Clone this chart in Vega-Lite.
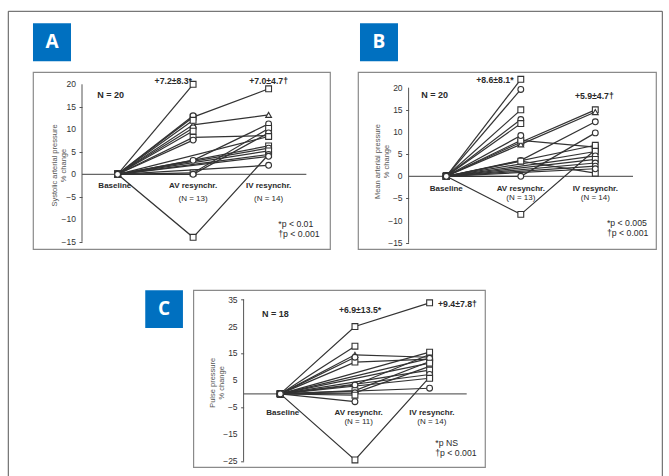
{
"$schema": "https://vega.github.io/schema/vega-lite/v6.json",
"background": "white",
"padding": {"left": 7, "top": 10, "right": 0, "bottom": 0},
"columns": 2,
"bounds": "flush",
"spacing": {"row": 41.3, "column": 28},
"datasets": {
"A": [
{"id":1,"c":0,"v":0},{"id":1,"c":1,"v":12.7},{"id":1,"c":2,"v":19},
{"id":2,"c":0,"v":0},{"id":2,"c":1,"v":11},{"id":2,"c":2,"v":13.2},
{"id":3,"c":0,"v":0},{"id":3,"c":1,"v":8.2},{"id":3,"c":2,"v":8.6},
{"id":4,"c":0,"v":0},{"id":4,"c":1,"v":3.1},{"id":4,"c":2,"v":11.2},
{"id":5,"c":0,"v":0},{"id":5,"c":1,"v":0.3},{"id":5,"c":2,"v":10.2},
{"id":6,"c":0,"v":0},{"id":6,"c":1,"v":0},{"id":6,"c":2,"v":9.2},
{"id":7,"c":0,"v":0},{"id":7,"c":1,"v":-14},{"id":7,"c":2,"v":4.4},
{"id":8,"c":0,"v":0},{"id":8,"c":1,"v":20},
{"id":9,"c":0,"v":0},{"id":9,"c":1,"v":13},
{"id":10,"c":0,"v":0},{"id":10,"c":1,"v":12},
{"id":11,"c":0,"v":0},{"id":11,"c":1,"v":10.3},
{"id":12,"c":0,"v":0},{"id":12,"c":1,"v":9.6},
{"id":13,"c":0,"v":0},{"id":13,"c":1,"v":7.6},
{"id":14,"c":0,"v":0},{"id":14,"c":2,"v":8.4},
{"id":15,"c":0,"v":0},{"id":15,"c":2,"v":6.3},
{"id":16,"c":0,"v":0},{"id":16,"c":2,"v":5.8},
{"id":17,"c":0,"v":0},{"id":17,"c":2,"v":5.2},
{"id":18,"c":0,"v":0},{"id":18,"c":2,"v":4.4},
{"id":19,"c":0,"v":0},{"id":19,"c":2,"v":4.0},
{"id":20,"c":0,"v":0},{"id":20,"c":2,"v":2.0}
],
"B": [
{"id":1,"c":0,"v":0},{"id":1,"c":1,"v":7.7},{"id":1,"c":2,"v":15.0},
{"id":2,"c":0,"v":0},{"id":2,"c":1,"v":7.2},{"id":2,"c":2,"v":14.5},
{"id":3,"c":0,"v":0},{"id":3,"c":1,"v":8.1},{"id":3,"c":2,"v":6.6},
{"id":4,"c":0,"v":0},{"id":4,"c":1,"v":3.6},{"id":4,"c":2,"v":12.3},
{"id":5,"c":0,"v":0},{"id":5,"c":1,"v":3.4},{"id":5,"c":2,"v":0.7},
{"id":6,"c":0,"v":0},{"id":6,"c":1,"v":0},{"id":6,"c":2,"v":9.8},
{"id":7,"c":0,"v":0},{"id":7,"c":1,"v":-8.6},{"id":7,"c":2,"v":6.0},
{"id":8,"c":0,"v":0},{"id":8,"c":1,"v":21.9},
{"id":9,"c":0,"v":0},{"id":9,"c":1,"v":19.6},
{"id":10,"c":0,"v":0},{"id":10,"c":1,"v":15.0},
{"id":11,"c":0,"v":0},{"id":11,"c":1,"v":12.8},
{"id":12,"c":0,"v":0},{"id":12,"c":1,"v":11.9},
{"id":13,"c":0,"v":0},{"id":13,"c":1,"v":9.2},
{"id":14,"c":0,"v":0},{"id":14,"c":2,"v":7.0},
{"id":15,"c":0,"v":0},{"id":15,"c":2,"v":5.6},
{"id":16,"c":0,"v":0},{"id":16,"c":2,"v":4.6},
{"id":17,"c":0,"v":0},{"id":17,"c":2,"v":3.8},
{"id":18,"c":0,"v":0},{"id":18,"c":2,"v":3.0},
{"id":19,"c":0,"v":0},{"id":19,"c":2,"v":2.3},
{"id":20,"c":0,"v":0},{"id":20,"c":2,"v":1.7}
],
"C": [
{"id":1,"c":0,"v":0},{"id":1,"c":1,"v":25},{"id":1,"c":2,"v":33.8},
{"id":2,"c":0,"v":0},{"id":2,"c":1,"v":14.5},{"id":2,"c":2,"v":13.6},
{"id":3,"c":0,"v":0},{"id":3,"c":1,"v":11.8},{"id":3,"c":2,"v":12.9},
{"id":4,"c":0,"v":0},{"id":4,"c":1,"v":3.3},{"id":4,"c":2,"v":14.6},
{"id":5,"c":0,"v":0},{"id":5,"c":1,"v":1.2},{"id":5,"c":2,"v":12.0},
{"id":6,"c":0,"v":0},{"id":6,"c":1,"v":0.4},{"id":6,"c":2,"v":10.2},
{"id":7,"c":0,"v":0},{"id":7,"c":1,"v":-24.5},{"id":7,"c":2,"v":6.2},
{"id":8,"c":0,"v":0},{"id":8,"c":1,"v":17.7},
{"id":9,"c":0,"v":0},{"id":9,"c":1,"v":13.6},
{"id":10,"c":0,"v":0},{"id":10,"c":1,"v":-0.5},
{"id":11,"c":0,"v":0},{"id":11,"c":1,"v":-2.9},
{"id":12,"c":0,"v":0},{"id":12,"c":2,"v":15.5},
{"id":13,"c":0,"v":0},{"id":13,"c":2,"v":13.2},
{"id":14,"c":0,"v":0},{"id":14,"c":2,"v":11.4},
{"id":15,"c":0,"v":0},{"id":15,"c":2,"v":8.8},
{"id":16,"c":0,"v":0},{"id":16,"c":2,"v":7.2},
{"id":17,"c":0,"v":0},{"id":17,"c":2,"v":5.8},
{"id":18,"c":0,"v":0},{"id":18,"c":2,"v":2.1}
],
"ticksAB": [{"t":-15},{"t":-10},{"t":-5},{"t":0},{"t":5},{"t":10},{"t":15},{"t":20}],
"ticksC": [{"t":-25},{"t":-15},{"t":-5},{"t":5},{"t":15},{"t":25},{"t":35}]
},
"concat": [
{
"width": 297, "height": 177,
"layer": [
{"data":{"values":[{}]},"mark":{"type":"rule","stroke":"#666","strokeWidth":1.2},"encoding":{"x":{"datum":-0.4715,"type":"quantitative","axis":null},"x2":{"datum":2.5},"y":{"datum":0,"type":"quantitative"}}},
{"data":{"name":"A"},"mark":{"type":"line","color":"#333","strokeWidth":1.2},"encoding":{
 "x":{"field":"c","type":"quantitative","scale":{"domain":[-1.1205,2.8132],"nice":false,"zero":false},"axis":null},
 "y":{"field":"v","type":"quantitative","scale":{"domain":[-16.6,22.733],"nice":false,"zero":false},
  "axis":{"offset":-49,"values":[-15,-10,-5,0,5,10,15,20],"labels":false,"domain":false,"grid":false,"tickSize":3,"tickColor":"#555","title":["Systolic arterial pressure","% change"],"titleFont":"Liberation Sans","titleFontSize":7.5,"titleFontWeight":"normal","titleColor":"#555","titleAngle":-90,"titleX":-28,"titleY":93,"titleAlign":"center","titleBaseline":"middle","titleLineHeight":9}},
 "detail":{"field":"id"},"order":{"field":"c"}}},
{"data":{"name":"A"},"mark":{"type":"point","filled":true,"fill":"white","stroke":"#333","strokeWidth":1.1,"size":34,"opacity":1},"encoding":{
 "x":{"field":"c","type":"quantitative","axis":null},
 "y":{"field":"v","type":"quantitative"},
 "shape":{"field":"id","type":"nominal","legend":null,"scale":{"domain":[1,2,3,4,5,6,7,8,9,10,11,12,13,14,15,16,17,18,19,20],"range":["square","triangle-up","square","circle","square","circle","square","square","circle","square","circle","square","circle","square","square","circle","square","circle","circle","circle"]}}}},
{"data":{"values":[{}]},"mark":{"type":"rule","stroke":"#555","strokeWidth":1},"encoding":{"x":{"datum":-0.4715,"type":"quantitative","axis":null},"y":{"datum":-15,"type":"quantitative"},"y2":{"datum":20}}},
{"data":{"name":"ticksAB"},"mark":{"type":"text","align":"right","baseline":"middle","dx":-6,"fontSize":8.5,"color":"#333"},"encoding":{"x":{"datum":-0.4715,"type":"quantitative","axis":null},"y":{"field":"t","type":"quantitative"},"text":{"field":"t","type":"quantitative"}}},
{"data":{"values":[{}]},"mark":{"type":"text","text":"+7.2±8.3*","align":"right","baseline":"middle","fontSize":8.7,"fontWeight":"bold"},"encoding":{"x":{"datum":0.985,"type":"quantitative","axis":null},"y":{"datum":20.73,"type":"quantitative"}}},
{"data":{"values":[{}]},"mark":{"type":"text","text":"+7.0±4.7†","align":"center","baseline":"middle","fontSize":8.7,"fontWeight":"bold"},"encoding":{"x":{"datum":2.0,"type":"quantitative","axis":null},"y":{"datum":20.73,"type":"quantitative"}}},
{"data":{"values":[{}]},"mark":{"type":"text","text":"N = 20","align":"left","baseline":"middle","fontSize":9,"fontWeight":"bold"},"encoding":{"x":{"datum":-0.269,"type":"quantitative","axis":null},"y":{"datum":17.56,"type":"quantitative"}}},
{"data":{"values":[{}]},"mark":{"type":"text","text":"Baseline","align":"center","baseline":"middle","fontSize":8,"fontWeight":"bold"},"encoding":{"x":{"datum":-0.037,"type":"quantitative","axis":null},"y":{"datum":-2.6,"type":"quantitative"}}},
{"data":{"values":[{}]},"mark":{"type":"text","text":"AV resynchr.","align":"center","baseline":"middle","fontSize":8,"fontWeight":"bold"},"encoding":{"x":{"datum":1.0,"type":"quantitative","axis":null},"y":{"datum":-2.6,"type":"quantitative"}}},
{"data":{"values":[{}]},"mark":{"type":"text","text":"(N = 13)","align":"center","baseline":"middle","fontSize":8},"encoding":{"x":{"datum":1.0,"type":"quantitative","axis":null},"y":{"datum":-5.4,"type":"quantitative"}}},
{"data":{"values":[{}]},"mark":{"type":"text","text":"IV resynchr.","align":"center","baseline":"middle","fontSize":8,"fontWeight":"bold"},"encoding":{"x":{"datum":2.0,"type":"quantitative","axis":null},"y":{"datum":-2.6,"type":"quantitative"}}},
{"data":{"values":[{}]},"mark":{"type":"text","text":"(N = 14)","align":"center","baseline":"middle","fontSize":8},"encoding":{"x":{"datum":2.0,"type":"quantitative","axis":null},"y":{"datum":-5.4,"type":"quantitative"}}},
{"data":{"values":[{}]},"mark":{"type":"text","text":"*p < 0.01","align":"left","baseline":"middle","fontSize":8.7},"encoding":{"x":{"datum":2.128,"type":"quantitative","axis":null},"y":{"datum":-10.96,"type":"quantitative"}}},
{"data":{"values":[{}]},"mark":{"type":"text","text":"†p < 0.001","align":"left","baseline":"middle","fontSize":8.7},"encoding":{"x":{"datum":2.128,"type":"quantitative","axis":null},"y":{"datum":-13.33,"type":"quantitative"}}},
{"data":{"values":[{}]},"mark":{"type":"rect","filled":false,"stroke":"#555","strokeWidth":1},"encoding":{"x":{"datum":-1.4477,"type":"quantitative","axis":null},"x2":{"datum":7.2146},"y":{"datum":36.222,"type":"quantitative"},"y2":{"datum":-70.22}}},
{"data":{"values":[{}]},"mark":{"type":"point","shape":"square","size":1444,"filled":true,"fill":"#0070C0","strokeWidth":0,"opacity":1},"encoding":{"x":{"datum":-0.869,"type":"quantitative","axis":null},"y":{"datum":29.33,"type":"quantitative"}}},
{"data":{"values":[{}]},"mark":{"type":"text","text":"A","align":"center","baseline":"middle","font":"Open Sans","fontSize":19,"fontWeight":"bold","color":"white"},"encoding":{"x":{"datum":-0.869,"type":"quantitative","axis":null},"y":{"datum":29.33,"type":"quantitative"}}}
]
},
{
"width": 298, "height": 177,
"layer": [
{"data":{"values":[{}]},"mark":{"type":"rule","stroke":"#666","strokeWidth":1.2},"encoding":{"x":{"datum":-0.506,"type":"quantitative","axis":null},"x2":{"datum":2.506},"y":{"datum":0,"type":"quantitative"}}},
{"data":{"name":"B"},"mark":{"type":"line","color":"#333","strokeWidth":1.2},"encoding":{
 "x":{"field":"c","type":"quantitative","scale":{"domain":[-1.1852,2.8148],"nice":false,"zero":false},"axis":null},
 "y":{"field":"v","type":"quantitative","scale":{"domain":[-16.41,23.54],"nice":false,"zero":false},
  "axis":{"offset":-50.6,"values":[-15,-10,-5,0,5,10,15,20],"labels":false,"domain":false,"grid":false,"tickSize":3,"tickColor":"#555","title":["Mean arterial pressure","% change"],"titleFont":"Liberation Sans","titleFontSize":7.5,"titleFontWeight":"normal","titleColor":"#555","titleAngle":-90,"titleX":-31,"titleY":89,"titleAlign":"center","titleBaseline":"middle","titleLineHeight":9}},
 "detail":{"field":"id"},"order":{"field":"c"}}},
{"data":{"name":"B"},"mark":{"type":"point","filled":true,"fill":"white","stroke":"#333","strokeWidth":1.1,"size":34,"opacity":1},"encoding":{
 "x":{"field":"c","type":"quantitative","axis":null},
 "y":{"field":"v","type":"quantitative"},
 "shape":{"field":"id","type":"nominal","legend":null,"scale":{"domain":[1,2,3,4,5,6,7,8,9,10,11,12,13,14,15,16,17,18,19,20],"range":["square","square","circle","circle","circle","square","circle","circle","square","circle","square","square","circle","square","circle","square","circle","circle","circle","circle"]}}}},
{"data":{"values":[{}]},"mark":{"type":"rule","stroke":"#555","strokeWidth":1},"encoding":{"x":{"datum":-0.506,"type":"quantitative","axis":null},"y":{"datum":-15,"type":"quantitative"},"y2":{"datum":20}}},
{"data":{"name":"ticksAB"},"mark":{"type":"text","align":"right","baseline":"middle","dx":-6,"fontSize":8.5,"color":"#333"},"encoding":{"x":{"datum":-0.506,"type":"quantitative","axis":null},"y":{"field":"t","type":"quantitative"},"text":{"field":"t","type":"quantitative"}}},
{"data":{"values":[{}]},"mark":{"type":"text","text":"+8.6±8.1*","align":"right","baseline":"middle","fontSize":8.7,"fontWeight":"bold"},"encoding":{"x":{"datum":0.903,"type":"quantitative","axis":null},"y":{"datum":21.83,"type":"quantitative"}}},
{"data":{"values":[{}]},"mark":{"type":"text","text":"+5.9±4.7†","align":"center","baseline":"middle","fontSize":8.7,"fontWeight":"bold"},"encoding":{"x":{"datum":1.987,"type":"quantitative","axis":null},"y":{"datum":18.06,"type":"quantitative"}}},
{"data":{"values":[{}]},"mark":{"type":"text","text":"N = 20","align":"left","baseline":"middle","fontSize":9,"fontWeight":"bold"},"encoding":{"x":{"datum":-0.336,"type":"quantitative","axis":null},"y":{"datum":18.28,"type":"quantitative"}}},
{"data":{"values":[{}]},"mark":{"type":"text","text":"Baseline","align":"center","baseline":"middle","fontSize":8,"fontWeight":"bold"},"encoding":{"x":{"datum":0,"type":"quantitative","axis":null},"y":{"datum":-2.93,"type":"quantitative"}}},
{"data":{"values":[{}]},"mark":{"type":"text","text":"AV resynchr.","align":"center","baseline":"middle","fontSize":8,"fontWeight":"bold"},"encoding":{"x":{"datum":1.0,"type":"quantitative","axis":null},"y":{"datum":-2.93,"type":"quantitative"}}},
{"data":{"values":[{}]},"mark":{"type":"text","text":"(N = 13)","align":"center","baseline":"middle","fontSize":8},"encoding":{"x":{"datum":1.0,"type":"quantitative","axis":null},"y":{"datum":-4.9,"type":"quantitative"}}},
{"data":{"values":[{}]},"mark":{"type":"text","text":"IV resynchr.","align":"center","baseline":"middle","fontSize":8,"fontWeight":"bold"},"encoding":{"x":{"datum":2.0,"type":"quantitative","axis":null},"y":{"datum":-2.93,"type":"quantitative"}}},
{"data":{"values":[{}]},"mark":{"type":"text","text":"(N = 14)","align":"center","baseline":"middle","fontSize":8},"encoding":{"x":{"datum":2.0,"type":"quantitative","axis":null},"y":{"datum":-4.9,"type":"quantitative"}}},
{"data":{"values":[{}]},"mark":{"type":"text","text":"*p < 0.005","align":"left","baseline":"middle","fontSize":8.7},"encoding":{"x":{"datum":2.157,"type":"quantitative","axis":null},"y":{"datum":-10.45,"type":"quantitative"}}},
{"data":{"values":[{}]},"mark":{"type":"text","text":"†p < 0.001","align":"left","baseline":"middle","fontSize":8.7},"encoding":{"x":{"datum":2.157,"type":"quantitative","axis":null},"y":{"datum":-12.71,"type":"quantitative"}}},
{"data":{"values":[{}]},"mark":{"type":"point","shape":"square","size":1444,"filled":true,"fill":"#0070C0","strokeWidth":0,"opacity":1},"encoding":{"x":{"datum":-0.9034,"type":"quantitative","axis":null},"y":{"datum":30.25,"type":"quantitative"}}},
{"data":{"values":[{}]},"mark":{"type":"text","text":"B","align":"center","baseline":"middle","font":"Open Sans","fontSize":19,"fontWeight":"bold","color":"white"},"encoding":{"x":{"datum":-0.9034,"type":"quantitative","axis":null},"y":{"datum":30.25,"type":"quantitative"}}}
]
},
{
"width": 297, "height": 177,
"view": {"stroke": null},
"layer": [
{"data":{"values":[{}]},"mark":{"type":"rect","filled":false,"stroke":"#8a8a8a","strokeWidth":1.2},"encoding":{"x":{"datum":-1.1614,"type":"quantitative","axis":null},"x2":{"datum":2.746},"y":{"datum":38.44,"type":"quantitative"},"y2":{"datum":-27.24}}},
{"data":{"values":[{}]},"mark":{"type":"rule","stroke":"#666","strokeWidth":1.2},"encoding":{"x":{"datum":-0.4916,"type":"quantitative","axis":null},"x2":{"datum":2.497},"y":{"datum":0,"type":"quantitative"}}},
{"data":{"name":"C"},"mark":{"type":"line","color":"#333","strokeWidth":1.2},"encoding":{
 "x":{"field":"c","type":"quantitative","scale":{"domain":[-3.3128,0.6658],"nice":false,"zero":false},"axis":null},
 "y":{"field":"v","type":"quantitative","scale":{"domain":[-27.24,38.44],"nice":false,"zero":false},
  "axis":{"offset":-210.6,"values":[-25,-15,-5,5,15,25,35],"labels":false,"domain":false,"grid":false,"tickSize":3,"tickColor":"#555","title":["Pulse pressure","% change"],"titleFont":"Liberation Sans","titleFontSize":7.5,"titleFontWeight":"normal","titleColor":"#555","titleAngle":-90,"titleX":-31,"titleY":92,"titleAlign":"center","titleBaseline":"middle","titleLineHeight":9}},
 "detail":{"field":"id"},"order":{"field":"c"}}},
{"data":{"name":"C"},"mark":{"type":"point","filled":true,"fill":"white","stroke":"#333","strokeWidth":1.1,"size":34,"opacity":1},"encoding":{
 "x":{"field":"c","type":"quantitative","axis":null},
 "y":{"field":"v","type":"quantitative"},
 "shape":{"field":"id","type":"nominal","legend":null,"scale":{"domain":[1,2,3,4,5,6,7,8,9,10,11,12,13,14,15,16,17,18],"range":["square","circle","circle","circle","circle","circle","square","circle","circle","circle","circle","circle","circle","circle","circle","circle","circle","circle"]}}}},
{"data":{"values":[{}]},"mark":{"type":"rule","stroke":"#555","strokeWidth":1},"encoding":{"x":{"datum":-0.4916,"type":"quantitative","axis":null},"y":{"datum":-25,"type":"quantitative"},"y2":{"datum":35}}},
{"data":{"name":"ticksC"},"mark":{"type":"text","align":"right","baseline":"middle","dx":-6,"fontSize":8.5,"color":"#333"},"encoding":{"x":{"datum":-0.4916,"type":"quantitative","axis":null},"y":{"field":"t","type":"quantitative"},"text":{"field":"t","type":"quantitative"}}},
{"data":{"values":[{}]},"mark":{"type":"text","text":"+6.9±13.5*","align":"center","baseline":"middle","fontSize":8.7,"fontWeight":"bold"},"encoding":{"x":{"datum":1.068,"type":"quantitative","axis":null},"y":{"datum":31.28,"type":"quantitative"}}},
{"data":{"values":[{}]},"mark":{"type":"text","text":"+9.4±7.8†","align":"left","baseline":"middle","fontSize":8.7,"fontWeight":"bold"},"encoding":{"x":{"datum":2.113,"type":"quantitative","axis":null},"y":{"datum":33.25,"type":"quantitative"}}},
{"data":{"values":[{}]},"mark":{"type":"text","text":"N = 18","align":"left","baseline":"middle","fontSize":9,"fontWeight":"bold"},"encoding":{"x":{"datum":-0.245,"type":"quantitative","axis":null},"y":{"datum":29.8,"type":"quantitative"}}},
{"data":{"values":[{}]},"mark":{"type":"text","text":"Baseline","align":"center","baseline":"middle","fontSize":8,"fontWeight":"bold"},"encoding":{"x":{"datum":0.033,"type":"quantitative","axis":null},"y":{"datum":-7.09,"type":"quantitative"}}},
{"data":{"values":[{}]},"mark":{"type":"text","text":"AV resynchr.","align":"center","baseline":"middle","fontSize":8,"fontWeight":"bold"},"encoding":{"x":{"datum":1.05,"type":"quantitative","axis":null},"y":{"datum":-7.09,"type":"quantitative"}}},
{"data":{"values":[{}]},"mark":{"type":"text","text":"(N = 11)","align":"center","baseline":"middle","fontSize":8},"encoding":{"x":{"datum":1.05,"type":"quantitative","axis":null},"y":{"datum":-10.4,"type":"quantitative"}}},
{"data":{"values":[{}]},"mark":{"type":"text","text":"IV resynchr.","align":"center","baseline":"middle","fontSize":8,"fontWeight":"bold"},"encoding":{"x":{"datum":2.03,"type":"quantitative","axis":null},"y":{"datum":-7.09,"type":"quantitative"}}},
{"data":{"values":[{}]},"mark":{"type":"text","text":"(N = 14)","align":"center","baseline":"middle","fontSize":8},"encoding":{"x":{"datum":2.03,"type":"quantitative","axis":null},"y":{"datum":-10.4,"type":"quantitative"}}},
{"data":{"values":[{}]},"mark":{"type":"text","text":"*p NS","align":"left","baseline":"middle","fontSize":8.7},"encoding":{"x":{"datum":2.076,"type":"quantitative","axis":null},"y":{"datum":-18.2,"type":"quantitative"}}},
{"data":{"values":[{}]},"mark":{"type":"text","text":"†p < 0.001","align":"left","baseline":"middle","fontSize":8.7},"encoding":{"x":{"datum":2.076,"type":"quantitative","axis":null},"y":{"datum":-21.9,"type":"quantitative"}}},
{"data":{"values":[{}]},"mark":{"type":"point","shape":"square","size":1421,"filled":true,"fill":"#0070C0","strokeWidth":0,"opacity":1},"encoding":{"x":{"datum":-1.5566,"type":"quantitative","axis":null},"y":{"datum":31.47,"type":"quantitative"}}},
{"data":{"values":[{}]},"mark":{"type":"text","text":"C","align":"center","baseline":"middle","font":"Open Sans","fontSize":19,"fontWeight":"bold","color":"white"},"encoding":{"x":{"datum":-1.5566,"type":"quantitative","axis":null},"y":{"datum":31.47,"type":"quantitative"}}}
]
}
],
"config": {
"view": {"stroke": "#8a8a8a", "strokeWidth": 1.2},
"font": "Liberation Sans",
"text": {"font": "Liberation Sans", "color": "#2a2a2a"}
}
}
